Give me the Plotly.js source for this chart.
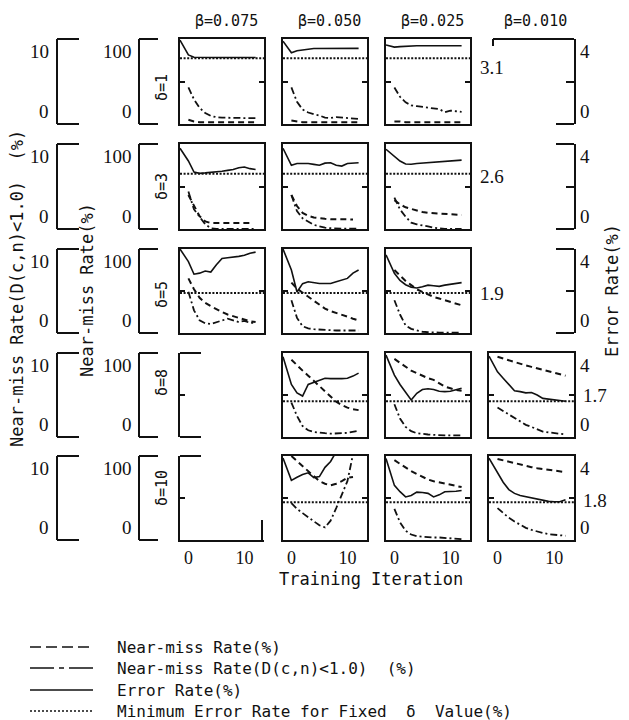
<!DOCTYPE html>
<html>
<head>
<meta charset="utf-8">
<script src="https://cdn.plot.ly/plotly-3.0.1.min.js"></script>
<style>html,body{margin:0;padding:0;background:#fff;}#chart{width:629px;height:720px;}</style>
</head>
<body>
<div id="chart"></div>
<script>
// ---------------- data ----------------
const BETA_LABELS = ['β=0.075', 'β=0.050', 'β=0.025', 'β=0.010'];
const DELTA_LABELS = ['δ=1', 'δ=3', 'δ=5', 'δ=8', 'δ=10'];
// first entry = initial (pre-training) point drawn at the left edge
const ITERATIONS = [-1.5, 0, 1, 2, 3, 4, 5, 6, 7, 8, 9, 10, 11, 12];
const X_TICK_VALUES = [0, 10];
const X_TICK_TEXT = ['0', '10'];
const MIN_ERROR = [3.1, 2.6, 1.9, 1.7, 1.8];
const LEGEND_TEXT = ['Near-miss Rate(%)', 'Near-miss Rate(D(c,n)<1.0)  (%)', 'Error Rate(%)', 'Minimum Error Rate for Fixed  δ  Value(%)'];

// ERR = Error Rate (%), NM = Near-miss Rate (%), NMD = Near-miss Rate(D(c,n)<1.0) (%)
// delta = 1
const ERR_D1_B075 = [3.95,3.25,3.14,3.13,3.13,3.13,3.13,3.13,3.13,3.13,3.13,3.13,3.13,3.13];
const NM_D1_B075  = [null,5,3,2,2,2,2,2,2,2,2,2,2,2];
const NMD_D1_B075 = [null,4.3,2.9,1.9,1.3,0.95,0.8,0.75,0.72,0.7,0.7,0.7,0.7,0.7];
const ERR_D1_B050 = [3.9,3.35,3.45,3.5,3.52,3.55,3.55,3.55,3.56,3.56,3.56,3.56,3.56,3.56];
const NM_D1_B050  = [null,4,3,2,2,2,2,2,2,2,2,2,2,2];
const NMD_D1_B050 = [null,4.3,2.6,1.7,1.35,1.15,1.0,0.75,0.7,0.8,0.75,0.7,0.6,0.6];
const ERR_D1_B025 = [3.72,3.62,3.64,3.66,3.68,3.68,3.68,3.68,3.68,3.68,3.68,3.68,3.68,3.68];
const NM_D1_B025  = [null,3,3,2,2,2,2,2,2,2,2,2,2,2];
const NMD_D1_B025 = [null,4.3,3.2,2.55,2.2,2.1,2.02,1.98,1.88,1.75,1.4,1.58,1.5,1.42];
// delta = 3
const ERR_D3_B075 = [3.8,3.2,2.68,2.62,2.64,2.66,2.7,2.72,2.76,2.8,2.88,2.92,2.84,2.8];
const NM_D3_B075  = [null,40,27,15,9,7,7,7,7,7,7,7,7,null];
const NMD_D3_B075 = [null,4.4,2.3,1.45,0.55,0.1,0,0,0,0,0,0,0,0];
const ERR_D3_B050 = [3.8,3.0,3.08,3.08,3.08,3.04,3.0,3.1,3.12,3.0,2.96,3.08,3.1,3.12];
const NM_D3_B050  = [null,40,27,19,15.5,13.5,12.5,12,11.5,11.4,11.4,11.4,11.3,null];
const NMD_D3_B050 = [null,4.0,2.1,1.25,0.85,0.5,0.3,0.15,0.1,0.05,0.05,0.05,0.05,0.05];
const ERR_D3_B025 = [3.75,3.4,3.2,3.06,3.05,3.08,3.1,3.12,3.14,3.15,3.16,3.18,3.22,3.24];
const NM_D3_B025  = [null,34,29,25.5,23.5,21.5,20,19,18.6,18.5,18,17,16.5,16.5];
const NMD_D3_B025 = [null,3.7,2.3,1.45,0.75,0.55,0.45,0.3,0.15,0.05,0,0,0,0];
// delta = 5
const ERR_D5_B075 = [4.0,3.4,2.8,2.85,2.95,2.9,3.25,3.55,3.58,3.6,3.65,3.7,3.8,3.85];
const NM_D5_B075  = [null,65,52,42,36,32,28,25,22,20,18,16,14,13];
const NMD_D5_B075 = [null,4.9,2.7,1.5,1.15,1.07,1.3,1.55,1.7,1.5,1.3,1.45,1.2,1.2];
const ERR_D5_B050 = [4.0,3.0,1.95,2.35,2.44,2.4,2.36,2.36,2.36,2.44,2.52,2.6,2.85,3.0];
const NM_D5_B050  = [null,60,53,48,43,38,33,29,26,24,21.5,19.5,17,15];
const NMD_D5_B050 = [null,3.9,1.8,0.8,0.55,0.45,0.4,0.35,0.3,0.3,0.3,0.3,0.3,0.3];
const ERR_D5_B025 = [3.72,2.84,2.5,2.3,2.18,2.14,2.2,2.28,2.25,2.22,2.28,2.32,2.36,2.4];
const NM_D5_B025  = [null,75,68,62,57,52,49,46,43,41,39,37,35,33];
const NMD_D5_B025 = [null,3.9,2.2,0.9,0.5,0.3,0.15,0.1,0.05,0.05,0.05,0.05,0.05,0.05];
// delta = 8
const ERR_D8_B050 = [3.82,2.5,2.1,1.95,2.5,2.6,2.7,2.8,2.78,2.77,2.78,2.8,2.9,3.04];
const NM_D8_B050  = [null,92,85,79,73,67,60,54,48,42,38,35,33,32];
const NMD_D8_B050 = [null,4.1,2.5,1.3,0.8,0.6,0.5,0.45,0.4,0.4,0.45,0.5,0.6,0.75];
const ERR_D8_B025 = [3.9,2.95,2.5,2.15,1.76,2.08,2.26,2.3,2.26,2.18,2.16,2.18,2.24,2.32];
const NM_D8_B025  = [null,93,88,83,79,76,73,70,68,64,60,58,56,55];
const NMD_D8_B025 = [null,3.9,2.2,1.2,0.7,0.45,0.35,0.3,0.25,0.2,0.2,0.2,0.2,0.2];
const ERR_D8_B010 = [3.85,3.1,2.8,2.5,2.2,2.16,2.1,2.12,2.0,1.84,1.8,1.76,1.72,1.7];
const NM_D8_B010  = [null,95.5,93.3,91,88.7,86.8,85.2,83.5,81.8,79.9,78,76,74.2,73];
const NMD_D8_B010 = [null,3.5,3.1,2.65,2.2,1.8,1.45,1.2,0.95,0.65,0.55,0.45,0.35,0.3];
// delta = 10
const ERR_D10_B050 = [3.9,2.84,2.99,3.12,3.2,2.97,3.02,3.46,3.74,4.2,null,null,null,null];
const NM_D10_B050  = [null,100,94,88,81,75,70,67,65,67,70,74,75,null];
const NMD_D10_B050 = [null,4.4,3.7,3.2,2.7,2.2,1.75,1.5,2.3,3.8,5.4,7.0,10.2,null];
const ERR_D10_B025 = [3.88,2.6,2.3,2.05,2.12,2.28,2.26,2.22,2.05,2.15,2.3,2.3,2.32,2.36];
const NM_D10_B025  = [null,95,90.5,86,82,78.6,75.3,72,70,68.5,67,65.5,64,63];
const NMD_D10_B025 = [null,3.7,2.1,1.1,0.65,0.45,0.4,0.3,0.3,0.3,0.25,0.2,0.15,0.1];
const ERR_D10_B010 = [3.9,3.25,2.75,2.4,2.22,2.12,2.06,2.0,1.94,1.88,1.84,1.82,1.82,1.92];
const NM_D10_B010  = [null,96.5,94.8,93,91.5,89.9,88.3,86.7,85.5,84.5,83.5,82.5,81.5,80.8];
const NMD_D10_B010 = [null,3.8,3.2,2.65,2.2,1.8,1.45,1.2,1.0,0.85,0.7,0.62,0.55,0.5];

// ---------------- layout helpers ----------------
const PANEL_DATA = {
  '0,0': [ERR_D1_B075, NM_D1_B075, NMD_D1_B075],
  '0,1': [ERR_D1_B050, NM_D1_B050, NMD_D1_B050],
  '0,2': [ERR_D1_B025, NM_D1_B025, NMD_D1_B025],
  '1,0': [ERR_D3_B075, NM_D3_B075, NMD_D3_B075],
  '1,1': [ERR_D3_B050, NM_D3_B050, NMD_D3_B050],
  '1,2': [ERR_D3_B025, NM_D3_B025, NMD_D3_B025],
  '2,0': [ERR_D5_B075, NM_D5_B075, NMD_D5_B075],
  '2,1': [ERR_D5_B050, NM_D5_B050, NMD_D5_B050],
  '2,2': [ERR_D5_B025, NM_D5_B025, NMD_D5_B025],
  '3,1': [ERR_D8_B050, NM_D8_B050, NMD_D8_B050],
  '3,2': [ERR_D8_B025, NM_D8_B025, NMD_D8_B025],
  '3,3': [ERR_D8_B010, NM_D8_B010, NMD_D8_B010],
  '4,1': [ERR_D10_B050, NM_D10_B050, NMD_D10_B050],
  '4,2': [ERR_D10_B025, NM_D10_B025, NMD_D10_B025],
  '4,3': [ERR_D10_B010, NM_D10_B010, NMD_D10_B010]
};
const CELL_KIND = [
  ['data', 'data', 'data', 'rightBracket'],
  ['data', 'data', 'data', 'rightBracket'],
  ['data', 'data', 'data', 'rightBracket'],
  ['leftBracket', 'data', 'data', 'data'],
  ['leftBracket', 'data', 'data', 'data']
];

const W = 629, H = 720;
const INK = '#111';
const MONO = 'DejaVu Sans Mono, monospace';
const SERIF = 'Liberation Serif, serif';
const X_RANGE = [-1.5, 13.5];
const ERR_RANGE = [0, 4], NM_RANGE = [0, 100], NMD_RANGE = [0, 10];
const COL_PX = [[180, 264], [283, 367], [386, 470], [489, 574]];
const ROW_PX = [[39, 124], [144, 229], [249, 333], [353, 437], [456, 540]];
const NMD_BRACKET_X = 57, NM_BRACKET_X = 139;
const DELTA_Y = [88, 187, 295, 383, 488];
const MIN_LABEL_DOWN = [9, 3, 0, -6, -2];
const LEGEND_Y = [647, 668, 690, 711];
const STYLE = {
  err: {color: INK, width: 1.6},
  nm: {color: INK, width: 2, dash: '6px,4px'},
  nmd: {color: INK, width: 1.8, dash: '7px,3px,2px,3px'},
  min: {color: INK, width: 2, dash: '2px,1.6px'}
};
const LEGEND_STYLE = [
  {color: INK, width: 1.5, dash: '11px,5px'},
  {color: INK, width: 1.5, dash: '24px,5px,5px,5px'},
  {color: INK, width: 1.5},
  {color: INK, width: 1.5, dash: '2px,2px'}
];
const FRAME = {color: INK, width: 2};

const px = v => v / W;
const py = v => 1 - v / H;
const sfx = n => (n === 1 ? '' : String(n));

const layout = {
  width: W, height: H, autosize: false,
  margin: {l: 0, r: 0, t: 0, b: 0},
  paper_bgcolor: '#fff', plot_bgcolor: 'rgba(0,0,0,0)',
  showlegend: false,
  font: {family: MONO, color: INK},
  shapes: [], annotations: []
};
const traces = [];

function label(text, x, xanchor, yref, y, yanchor, font, extra) {
  return Object.assign({text, x, xref: 'paper', xanchor, y, yref, yanchor, showarrow: false,
    font: font || {family: SERIF, size: 19, color: INK}}, extra || {});
}
// horizontal cap of a bracket at the top (1) or bottom (0) of a row's y domain
function cap(x0, x1, yAxisId, end) {
  layout.shapes.push({type: 'line', xref: 'paper', x0: px(x0), x1: px(x1),
    yref: yAxisId + ' domain', y0: end, y1: end, line: FRAME});
}

function bracketAxis(over, range, pos) {
  return {overlaying: over, anchor: 'free', position: pos, side: 'left', range,
    showline: true, linewidth: 2, linecolor: INK, ticks: '',
    showticklabels: false, showgrid: false, zeroline: false, fixedrange: true};
}
function hiddenAxis(over, anchor, range) {
  return {overlaying: over, anchor, range, visible: false, fixedrange: true};
}

let nextAxis = 21;
const rowHasBracket = {};

for (let r = 0; r < 5; r++) {
  for (let c = 0; c < 4; c++) {
    const k = r * 4 + c + 1, s = sfx(k);
    const kind = CELL_KIND[r][c];
    const bottom = r === 4;
    const xa = {
      domain: [px(COL_PX[c][0]), px(COL_PX[c][1])], range: X_RANGE, anchor: 'y' + s,
      showgrid: false, zeroline: false, fixedrange: true, ticks: '',
      tickmode: 'array', tickvals: X_TICK_VALUES, ticktext: X_TICK_TEXT,
      showticklabels: bottom, tickfont: {family: SERIF, size: 18, color: INK},
      linecolor: INK, linewidth: 2, showline: false
    };
    const ya = {
      domain: [py(ROW_PX[r][1]), py(ROW_PX[r][0])], range: ERR_RANGE, anchor: 'x' + s,
      showgrid: false, zeroline: false, fixedrange: true, showticklabels: false,
      linecolor: INK, linewidth: 2, tickcolor: INK, tickwidth: 2, showline: true,
      ticks: 'inside', tickmode: 'array', tickvals: [2]
    };
    if (kind === 'data') {
      Object.assign(xa, {showline: true, mirror: true});
      Object.assign(ya, {mirror: 'ticks', ticklen: 5});
    } else if (kind === 'rightBracket') {
      Object.assign(ya, {side: 'right', ticklen: 8});
      cap(556, COL_PX[c][1], 'y' + s, 1);
      cap(556, COL_PX[c][1], 'y' + s, 0);
    } else {
      Object.assign(xa, {showline: bottom});
      Object.assign(ya, {ticklen: 5});
      cap(COL_PX[c][0], COL_PX[c][0] + 21, 'y' + s, 1);
      if (!bottom) cap(COL_PX[c][0], COL_PX[c][0] + 21, 'y' + s, 0);
    }
    layout['xaxis' + s] = xa;
    layout['yaxis' + s] = ya;

    if (kind !== 'data') {
      traces.push({x: [], y: [], xaxis: 'x' + s, yaxis: 'y' + s, type: 'scatter', mode: 'lines',
        hoverinfo: 'skip', showlegend: false});
      continue;
    }

    const [err, nm, nmd] = PANEL_DATA[r + ',' + c];
    const first = !rowHasBracket[r];
    rowHasBracket[r] = true;
    const nmN = nextAxis++, nmdN = nextAxis++;
    layout['yaxis' + nmN] = first ? bracketAxis('y' + s, NM_RANGE, px(NM_BRACKET_X))
                                  : hiddenAxis('y' + s, 'x' + s, NM_RANGE);
    layout['yaxis' + nmdN] = first ? bracketAxis('y' + s, NMD_RANGE, px(NMD_BRACKET_X))
                                   : hiddenAxis('y' + s, 'x' + s, NMD_RANGE);
    traces.push({x: ITERATIONS, y: err, xaxis: 'x' + s, yaxis: 'y' + s, type: 'scatter', mode: 'lines',
      line: STYLE.err, name: LEGEND_TEXT[2], hoverinfo: 'skip', showlegend: false});
    traces.push({x: ITERATIONS, y: nm, xaxis: 'x' + s, yaxis: 'y' + nmN, type: 'scatter', mode: 'lines',
      line: STYLE.nm, name: LEGEND_TEXT[0], hoverinfo: 'skip', showlegend: false});
    traces.push({x: ITERATIONS, y: nmd, xaxis: 'x' + s, yaxis: 'y' + nmdN, type: 'scatter', mode: 'lines',
      line: STYLE.nmd, name: LEGEND_TEXT[1], hoverinfo: 'skip', showlegend: false});
    // minimum error rate for this delta, across the whole panel
    layout.shapes.push({type: 'line', xref: 'x' + s + ' domain', x0: 0, x1: 1,
      yref: 'y' + s, y0: MIN_ERROR[r], y1: MIN_ERROR[r], line: STYLE.min});

    if (first) {
      cap(NMD_BRACKET_X, NMD_BRACKET_X + 22, 'y' + s, 1);
      cap(NMD_BRACKET_X, NMD_BRACKET_X + 22, 'y' + s, 0);
      cap(NM_BRACKET_X, NM_BRACKET_X + 19, 'y' + s, 1);
      cap(NM_BRACKET_X, NM_BRACKET_X + 19, 'y' + s, 0);
      layout.annotations.push(label('10', px(51), 'right', 'y' + nmdN, NMD_RANGE[1], 'top'));
      layout.annotations.push(label('0', px(51), 'right', 'y' + nmdN, NMD_RANGE[0], 'bottom'));
      layout.annotations.push(label('100', px(134), 'right', 'y' + nmN, NM_RANGE[1], 'top'));
      layout.annotations.push(label('0', px(134), 'right', 'y' + nmN, NM_RANGE[0], 'bottom'));
    }
  }
}

// Right-hand error-rate scale labels, minimum-error labels, delta labels
for (let r = 0; r < 5; r++) {
  const rightAxis = 'y' + sfx(r * 4 + 4);
  layout.annotations.push(label('4', px(578), 'left', rightAxis, ERR_RANGE[1], 'top'));
  layout.annotations.push(label('0', px(578), 'left', rightAxis, ERR_RANGE[0], 'bottom'));
  const minAxis = r < 3 ? 'y' + sfx(r * 4 + 3) : rightAxis;
  layout.annotations.push(label(MIN_ERROR[r].toFixed(1), px(r < 3 ? 478 : 581), 'left', minAxis,
    MIN_ERROR[r], 'middle', null, {yshift: -MIN_LABEL_DOWN[r]}));
  layout.annotations.push(label(DELTA_LABELS[r], px(162), 'center', 'paper', py(DELTA_Y[r]), 'middle',
    {family: MONO, size: 15, color: INK}, {textangle: -90}));
}

// Column titles
for (let c = 0; c < 4; c++) {
  const cx = (COL_PX[c][0] + COL_PX[c][1]) / 2 + 4;
  layout.annotations.push(label(BETA_LABELS[c], px(cx), 'center', 'paper', py(21), 'middle',
    {family: MONO, size: 15, color: INK}));
}

// Axis titles
const TITLE_FONT = {family: MONO, size: 17, color: INK};
layout.annotations.push(label('Training Iteration', px(371), 'center', 'paper', py(579), 'middle', TITLE_FONT));
layout.annotations.push(label('Near-miss Rate(D(c,n)<1.0)  (%)', px(17), 'center', 'paper', py(289), 'middle', TITLE_FONT, {textangle: -90}));
layout.annotations.push(label('Near-miss Rate(%)', px(87), 'center', 'paper', py(290), 'middle', TITLE_FONT, {textangle: -90}));
layout.annotations.push(label('Error Rate(%)', px(612), 'center', 'paper', py(291), 'middle', TITLE_FONT, {textangle: -90}));

// Decorative partial frames
layout.shapes.push({type: 'line', xref: 'paper', yref: 'paper', x0: px(493), x1: px(574), y0: py(39), y1: py(39), line: FRAME});
layout.shapes.push({type: 'line', xref: 'paper', yref: 'paper', x0: px(493), x1: px(493), y0: py(39), y1: py(46), line: FRAME});
layout.shapes.push({type: 'line', xref: 'paper', yref: 'paper', x0: px(262), x1: px(262), y0: py(520), y1: py(540), line: FRAME});

// Legend (drawn manually to match the long line samples)
for (let i = 0; i < 4; i++) {
  layout.shapes.push({type: 'line', xref: 'paper', yref: 'paper', x0: px(30), x1: px(93),
    y0: py(LEGEND_Y[i]), y1: py(LEGEND_Y[i]), line: LEGEND_STYLE[i]});
  layout.annotations.push(label(LEGEND_TEXT[i], px(115), 'left', 'paper', py(LEGEND_Y[i]), 'middle',
    {family: MONO, size: 16, color: INK}));
}

Plotly.newPlot('chart', traces, layout, {staticPlot: true, displayModeBar: false});
</script>
</body>
</html>
